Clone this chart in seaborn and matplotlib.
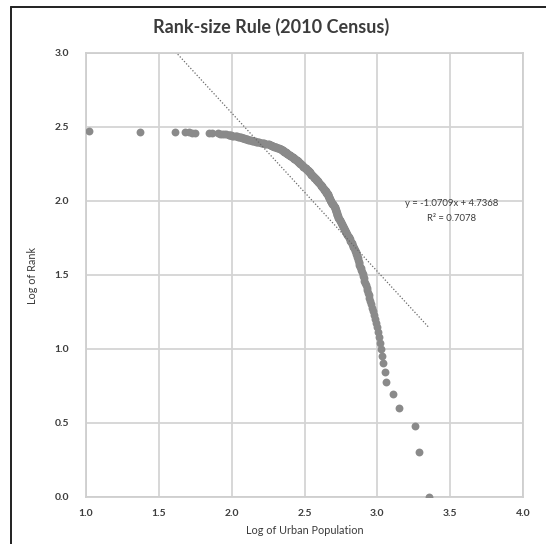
import numpy as np
import pandas as pd
import matplotlib
matplotlib.use("Agg")
import matplotlib.pyplot as plt
from matplotlib.lines import Line2D
import seaborn as sns

# ---- data ----
# log10 of urban population, ordered by rank (rank 1 = largest)
log_pop = [
    3.354, 3.283, 3.258, 3.150, 3.109, 3.060, 3.055, 3.036, 3.030, 3.025,
    3.020, 3.014, 3.006, 3.000, 2.992, 2.982, 2.976, 2.969, 2.962, 2.956,
    2.950, 2.946, 2.941, 2.936, 2.931, 2.926, 2.920, 2.915, 2.911, 2.907,
    2.903, 2.899, 2.895, 2.890, 2.885, 2.880, 2.877, 2.874, 2.871, 2.868,
    2.865, 2.862, 2.859, 2.856, 2.853, 2.850, 2.846, 2.841, 2.836, 2.832,
    2.828, 2.824, 2.820, 2.815, 2.811, 2.807, 2.803, 2.799, 2.795, 2.790,
    2.787, 2.784, 2.780, 2.777, 2.773, 2.770, 2.766, 2.763, 2.759, 2.756,
    2.752, 2.749, 2.746, 2.742, 2.739, 2.736, 2.733, 2.730, 2.728, 2.726,
    2.724, 2.722, 2.720, 2.719, 2.717, 2.715, 2.713, 2.711, 2.710, 2.708,
    2.706, 2.703, 2.700, 2.697, 2.694, 2.691, 2.688, 2.685, 2.682, 2.679,
    2.676, 2.674, 2.672, 2.670, 2.668, 2.667, 2.665, 2.664, 2.662, 2.661,
    2.660, 2.657, 2.654, 2.651, 2.648, 2.645, 2.642, 2.639, 2.636, 2.633,
    2.631, 2.628, 2.625, 2.622, 2.620, 2.617, 2.615, 2.612, 2.610, 2.607,
    2.604, 2.602, 2.599, 2.596, 2.593, 2.591, 2.588, 2.585, 2.582, 2.579,
    2.577, 2.574, 2.571, 2.568, 2.565, 2.562, 2.559, 2.556, 2.553, 2.550,
    2.548, 2.546, 2.543, 2.541, 2.540, 2.537, 2.534, 2.531, 2.528, 2.525,
    2.522, 2.519, 2.516, 2.513, 2.510, 2.507, 2.504, 2.501, 2.498, 2.495,
    2.492, 2.490, 2.487, 2.485, 2.482, 2.480, 2.477, 2.475, 2.472, 2.470,
    2.467, 2.464, 2.461, 2.458, 2.455, 2.452, 2.449, 2.446, 2.443, 2.440,
    2.437, 2.434, 2.431, 2.428, 2.425, 2.422, 2.419, 2.416, 2.412, 2.409,
    2.406, 2.403, 2.400, 2.397, 2.394, 2.391, 2.388, 2.385, 2.382, 2.379,
    2.376, 2.373, 2.370, 2.367, 2.364, 2.361, 2.358, 2.355, 2.352, 2.349,
    2.346, 2.343, 2.340, 2.337, 2.334, 2.330, 2.325, 2.319, 2.313, 2.307,
    2.302, 2.297, 2.292, 2.287, 2.282, 2.278, 2.274, 2.270, 2.265, 2.260,
    2.253, 2.246, 2.238, 2.231, 2.223, 2.215, 2.207, 2.199, 2.191, 2.183,
    2.175, 2.167, 2.159, 2.150, 2.144, 2.138, 2.132, 2.126, 2.120, 2.114,
    2.108, 2.102, 2.096, 2.091, 2.086, 2.081, 2.075, 2.069, 2.062, 2.055,
    2.048, 2.041, 2.034, 2.027, 2.020, 2.012, 2.004, 1.998, 1.991, 1.985,
    1.979, 1.962, 1.948, 1.935, 1.921, 1.905, 1.862, 1.845, 1.745, 1.728,
    1.705, 1.680, 1.610, 1.374, 1.022,
]
ranks = list(range(1, len(log_pop) + 1))

# trend line shown on the chart
slope = -1.0709
intercept = 4.7368
r_squared = 0.7078

title = "Rank-size Rule (2010 Census)"
x_label = "Log of Urban Population"
y_label = "Log of Rank"
x_ticks = [1.0, 1.5, 2.0, 2.5, 3.0, 3.5, 4.0]
y_ticks = [0.0, 0.5, 1.0, 1.5, 2.0, 2.5, 3.0]

# ---- plotting ----
sns.set_style("white")
plt.rcParams["font.family"] = ["Lato", "DejaVu Sans"]

df = pd.DataFrame({"log_pop": log_pop, "log_rank": np.log10(ranks)})

fig = plt.figure(figsize=(5.46, 5.44), dpi=100)
ax = fig.add_axes([86 / 546, 1 - 497 / 544, (523 - 86) / 546, (497 - 53) / 544])

sns.scatterplot(data=df, x="log_pop", y="log_rank", ax=ax, s=32,
                color="#8a8a8a", linewidth=0, zorder=3)

xs = np.array([df["log_pop"].min(), df["log_pop"].max()])
ax.plot(xs, slope * xs + intercept, linestyle=(0, (1, 1.5)), color="#6a6a6a",
        linewidth=0.9, zorder=4)

ax.set_xlim(1.0, 4.0)
ax.set_ylim(0.0, 3.0)
ax.set_xticks(x_ticks)
ax.set_yticks(y_ticks)
ax.set_xticklabels([f"{t:.1f}" for t in x_ticks])
ax.set_yticklabels([f"{t:.1f}" for t in y_ticks])
ax.grid(True, color="#d4d4d4", linewidth=1.3)
ax.set_axisbelow(True)
for sp in ax.spines.values():
    sp.set_color("#cfcfcf")
    sp.set_linewidth(1.3)
ax.tick_params(axis="both", length=0, labelsize=7.5, colors="#3c3c3c")
ax.tick_params(axis="x", pad=9)
ax.tick_params(axis="y", pad=12)
for lab in ax.get_xticklabels() + ax.get_yticklabels():
    lab.set_fontweight("bold")

ax.set_xlabel(x_label, fontsize=7.8, color="#3c3c3c", labelpad=5)
ax.set_ylabel(y_label, fontsize=7.8, color="#3c3c3c", labelpad=12)

ax.text(3.51, 1.98, f"y = {slope:.4f}x + {intercept:.4f}", fontsize=6.8,
        color="#3c3c3c", ha="center", va="center")
ax.text(3.51, 1.885, f"R² = {r_squared:.4f}", fontsize=6.8,
        color="#3c3c3c", ha="center", va="center")

fig.text(0.497, 1 - 27 / 544, title, fontsize=13, fontweight="bold",
         color="#3c3c3c", ha="center", va="center")

# outer frame lines (top and left only, as in the reference)
fig.add_artist(Line2D([11 / 546, 1.0], [1 - 7 / 544, 1 - 7 / 544],
                      transform=fig.transFigure, color="#202020", linewidth=1.4))
fig.add_artist(Line2D([11 / 546, 11 / 546], [0.0, 1 - 7 / 544],
                      transform=fig.transFigure, color="#202020", linewidth=1.4))

fig.savefig("out.png", dpi=100)
